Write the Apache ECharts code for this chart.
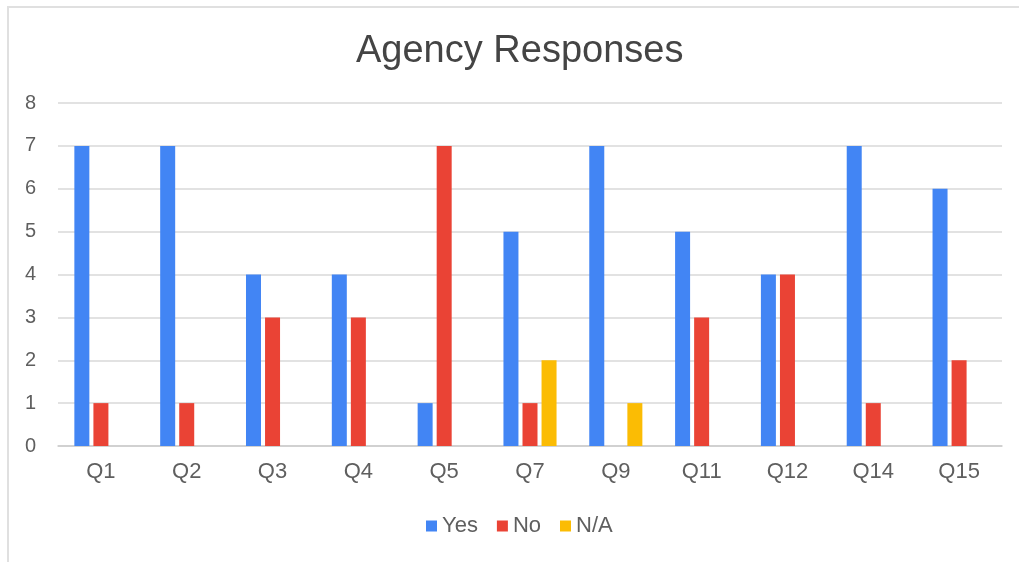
<!DOCTYPE html>
<html>

<head>
    <meta charset="utf-8">
    <title>Agency Responses</title>
    <script src="https://cdnjs.cloudflare.com/ajax/libs/echarts/6.0.0/echarts.min.js"></script>
    <style>
        html, body {
            margin: 0;
            padding: 0;
            background: #fff;
            overflow: hidden;
        }

        .frame {
            position: absolute;
            left: 7px;
            top: 6px;
            width: 1030px;
            height: 580px;
            border-left: 2px solid #e0e0e0;
            border-top: 2px solid #e0e0e0;
        }

        .chart {
            position: absolute;
            left: 0;
            top: 0;
            width: 1019px;
            height: 562px;
        }
    </style>
</head>

<body>
    <div class="frame"></div>
    <div id="main" class="chart"></div>

    <script type="text/javascript">
        var questions = ['Q1', 'Q2', 'Q3', 'Q4', 'Q5', 'Q7', 'Q9', 'Q11', 'Q12', 'Q14', 'Q15'];
        var yes_data = [7, 7, 4, 4, 1, 5, 7, 5, 4, 7, 6];
        var no_data = [1, 1, 3, 3, 7, 1, 0, 3, 4, 1, 2];
        var na_data = [0, 0, 0, 0, 0, 2, 1, 0, 0, 0, 0];

        var myChart = echarts.init(document.getElementById('main'));

        var labelColor = '#5f5f5f';

        var option = {
            animation: false,
            title: {
                text: 'Agency Responses',
                left: 351,
                top: 28,
                textStyle: {
                    fontFamily: 'Arial, Liberation Sans',
                    fontSize: 38,
                    fontWeight: 'normal',
                    color: '#444'
                }
            },
            legend: {
                top: 510,
                left: 421,
                itemWidth: 11,
                itemHeight: 11,
                itemGap: 19,
                icon: 'rect',
                textStyle: {
                    fontFamily: 'Arial, Liberation Sans',
                    fontSize: 22,
                    color: labelColor,
                    padding: [0, 0, 0, 0]
                },
                data: ['Yes', 'No', 'N/A']
            },
            grid: {
                left: 58,
                right: 17,
                top: 103,
                bottom: 116
            },
            xAxis: {
                type: 'category',
                data: questions,
                axisTick: { show: false },
                axisLine: { lineStyle: { color: '#cccccc', width: 1.5 } },
                axisLabel: {
                    margin: 15,
                    fontFamily: 'Arial, Liberation Sans',
                    fontSize: 22,
                    color: labelColor
                }
            },
            yAxis: {
                type: 'value',
                min: 0,
                max: 8,
                interval: 1,
                axisLine: { show: false },
                axisTick: { show: false },
                splitLine: { lineStyle: { color: '#d9d9d9', width: 1.5 } },
                axisLabel: {
                    margin: 22,
                    fontFamily: 'Arial, Liberation Sans',
                    fontSize: 20,
                    color: labelColor
                }
            },
            series: [{
                name: 'Yes',
                type: 'bar',
                data: yes_data,
                barWidth: 15,
                barGap: '27%',
                itemStyle: { color: '#4285F4' }
            }, {
                name: 'No',
                type: 'bar',
                data: no_data,
                barWidth: 15,
                barGap: '27%',
                itemStyle: { color: '#EA4335' }
            }, {
                name: 'N/A',
                type: 'bar',
                data: na_data,
                barWidth: 15,
                barGap: '27%',
                itemStyle: { color: '#FBBC04' }
            }]
        };

        myChart.setOption(option);
    </script>
</body>

</html>
